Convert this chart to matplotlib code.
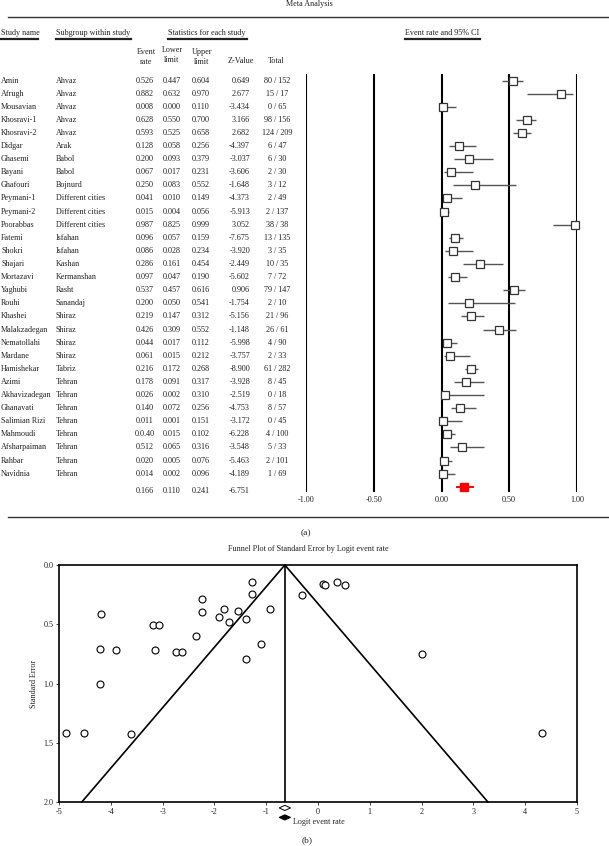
import matplotlib
matplotlib.use("Agg")
import matplotlib.pyplot as plt
import matplotlib.transforms as mtransforms
from matplotlib.lines import Line2D
from matplotlib.patches import Polygon

plt.rcParams['font.family'] = ['Liberation Serif', 'DejaVu Serif']
plt.rcParams['axes.unicode_minus'] = False

# ---- forest plot data (a) ----
studies = ["Amin", "Afrugh", "Mousavian", "Khosravi-1", "Khosravi-2", "Didgar", "Ghasemi",
           "Bayani", "Ghafouri", "Peymani-1", "Peymani-2", "Poorabbas", "Fatemi", "Shokri",
           "Shajari", "Mortazavi", "Yaghubi", "Rouhi", "Khashei", "Malakzadegan", "Nematollahi",
           "Mardane", "Hamishekar", "Azimi", "Akhavizadegan", "Ghanavati", "Salimian Rizi",
           "Mahmoudi", "Afsharpaiman", "Rahbar", "Navidnia"]
subgroups = ["Ahvaz", "Ahvaz", "Ahvaz", "Ahvaz", "Ahvaz", "Arak", "Babol", "Babol", "Bojnurd",
             "Different cities", "Different cities", "Different cities", "Isfahan", "Isfahan",
             "Kashan", "Kermanshan", "Rasht", "Sanandaj", "Shiraz", "Shiraz", "Shiraz", "Shiraz",
             "Tabriz", "Tehran", "Tehran", "Tehran", "Tehran", "Tehran", "Tehran", "Tehran", "Tehran"]
# table text as printed
rate_txt = ["0.526", "0.882", "0.008", "0.628", "0.593", "0.128", "0.200", "0.067", "0.250",
            "0.041", "0.015", "0.987", "0.096", "0.086", "0.286", "0.097", "0.537", "0.200",
            "0.219", "0.426", "0.044", "0.061", "0.216", "0.178", "0.026", "0.140", "0.011",
            "0.0.40", "0.512", "0.020", "0.014"]
lower_txt = ["0.447", "0.632", "0.000", "0.550", "0.525", "0.058", "0.093", "0.017", "0.083",
             "0.010", "0.004", "0.825", "0.057", "0.028", "0.161", "0.047", "0.457", "0.050",
             "0.147", "0.309", "0.017", "0.015", "0.172", "0.091", "0.002", "0.072", "0.001",
             "0.015", "0.065", "0.005", "0.002"]
upper_txt = ["0.604", "0.970", "0.110", "0.700", "0.658", "0.256", "0.379", "0.231", "0.552",
             "0.149", "0.056", "0.999", "0.159", "0.234", "0.454", "0.190", "0.616", "0.541",
             "0.312", "0.552", "0.112", "0.212", "0.268", "0.317", "0.310", "0.256", "0.151",
             "0.102", "0.316", "0.076", "0.096"]
zval_txt = ["0.649", "2.677", "-3.434", "3.166", "2.682", "-4.397", "-3.037", "-3.606", "-1.648",
            "-4.373", "-5.913", "3.052", "-7.675", "-3.920", "-2.449", "-5.602", "0.906", "-1.754",
            "-5.156", "-1.148", "-5.998", "-3.757", "-8.900", "-3.928", "-2.519", "-4.753", "-3.172",
            "-6.228", "-3.548", "-5.463", "-4.189"]
total_txt = ["80 / 152", "15 / 17", "0 / 65", "98 / 156", "124 / 209", "6 / 47", "6 / 30",
             "2 / 30", "3 / 12", "2 / 49", "2 / 137", "38 / 38", "13 / 135", "3 / 35", "10 / 35",
             "7 / 72", "79 / 147", "2 / 10", "21 / 96", "26 / 61", "4 / 90", "2 / 33", "61 / 282",
             "8 / 45", "0 / 18", "8 / 57", "0 / 45", "4 / 100", "5 / 33", "2 / 101", "1 / 69"]
summary_txt = ["0.166", "0.110", "0.241", "-6.751"]

# plotted values (as drawn in the figure)
rate = [0.526, 0.882, 0.008, 0.628, 0.593, 0.128, 0.200, 0.067, 0.250, 0.041, 0.015, 0.987,
        0.096, 0.086, 0.286, 0.097, 0.537, 0.200, 0.219, 0.426, 0.044, 0.061, 0.216, 0.178,
        0.026, 0.140, 0.011, 0.040, 0.152, 0.020, 0.014]
lower = [0.447, 0.632, 0.000, 0.550, 0.525, 0.058, 0.093, 0.017, 0.083, 0.010, 0.004, 0.825,
         0.057, 0.028, 0.161, 0.047, 0.457, 0.050, 0.147, 0.309, 0.017, 0.015, 0.172, 0.091,
         0.002, 0.072, 0.001, 0.015, 0.065, 0.005, 0.002]
upper = [0.604, 0.970, 0.110, 0.700, 0.658, 0.256, 0.379, 0.231, 0.552, 0.149, 0.056, 0.999,
         0.159, 0.234, 0.454, 0.190, 0.616, 0.541, 0.312, 0.552, 0.112, 0.212, 0.268, 0.317,
         0.310, 0.256, 0.151, 0.102, 0.316, 0.076, 0.096]
pooled = [0.166, 0.110, 0.241]
forest_ticks = [-1.0, -0.5, 0.0, 0.5, 1.0]
forest_ticklabels = ["-1.00", "-0.50", "0.00", "0.50", "1.00"]

# ---- funnel plot data (b) ----
logit = [-4.86, -4.51, -3.61, -4.18, -4.21, -3.90, -4.21, -3.19, -3.06, -3.15, -2.75, -2.63,
         -2.36, -2.23, -2.23, -1.92, -1.81, -1.72, -1.54, -1.39, -1.39, -1.27, -1.27, -1.10,
         -0.92, -0.30, 0.10, 0.14, 0.37, 0.52, 2.00, 4.33]
std_err = [1.418, 1.42, 1.43, 0.416, 0.71, 0.717, 1.004, 0.509, 0.509, 0.717, 0.731, 0.731,
           0.599, 0.29, 0.40, 0.436, 0.374, 0.484, 0.388, 0.456, 0.79, 0.143, 0.245, 0.667,
           0.371, 0.256, 0.163, 0.169, 0.141, 0.166, 0.751, 1.42]
center_logit = -0.64
funnel_xticks = [-5, -4, -3, -2, -1, 0, 1, 2, 3, 4, 5]
funnel_yticks = [0.0, 0.5, 1.0, 1.5, 2.0]

W, H = 609, 846
fig = plt.figure(figsize=(W / 100, H / 100), dpi=100)


def fx(px):
    return px / W


def fy(py):
    return 1 - py / H


def hline(x0, x1, py, lw=1.0, color="#333333"):
    fig.add_artist(Line2D([fx(x0), fx(x1)], [fy(py), fy(py)], lw=lw, color=color,
                          transform=fig.transFigure))


fs = 5.9
txtc = "#222222"

fig.text(fx(309), fy(4), "Meta Analysis", fontsize=fs, ha="center", va="center", color=txtc)
hline(8, 609, 17, lw=1.0)
hline(8, 609, 517, lw=1.0)
fig.text(fx(306), fy(533), "(a)", fontsize=6.8, ha="center", va="center", color=txtc)

# section headers with underlines
for label, x0, x1 in [("Study name", 1, 38), ("Subgroup within study", 56, 131),
                      ("Statistics for each study", 168, 247), ("Event rate and 95% CI", 405, 480)]:
    fig.text(fx(x0), fy(33), label, fontsize=fs, ha="left", va="center", color=txtc)
    hline(x0, x1, 39.5, lw=1.6, color="#222222")

fig.text(fx(146), fy(57), "Event\nrate", fontsize=fs, ha="center", va="center",
         color=txtc, linespacing=1.3)
fig.text(fx(172), fy(55), "Lower\nlimit", fontsize=fs, ha="center", va="center",
         color=txtc, linespacing=1.3)
fig.text(fx(202), fy(57), "Upper\nlimit", fontsize=fs, ha="center", va="center",
         color=txtc, linespacing=1.3)
fig.text(fx(241), fy(61), "Z-Value", fontsize=fs, ha="center", va="center", color=txtc)
fig.text(fx(276), fy(61), "Total", fontsize=fs, ha="center", va="center", color=txtc)

# forest axes
ax1 = fig.add_axes([fx(306), fy(492), (577 - 306) / W, (492 - 74) / H])
ax1.set_xlim(-1, 1)
ax1.set_ylim(31.4, -0.5)
for s in ax1.spines.values():
    s.set_visible(False)
ax1.set_yticks([])
ax1.set_xticks(forest_ticks)
ax1.set_xticklabels(forest_ticklabels, fontsize=fs, color=txtc)
ax1.tick_params(axis="x", length=0, pad=3)
for t in forest_ticks:
    ax1.axvline(t, color="black", lw=1.5, zorder=1)

rows = list(range(len(studies)))
ax1.hlines(rows, lower, upper, color="#555555", lw=1.0, zorder=2, clip_on=False)
ax1.plot(rate, rows, ls="none", marker="s", ms=5.2, mfc="white", mec="#333333",
         mew=0.9, zorder=3, clip_on=False)
sum_row = 31.0
ax1.hlines([sum_row], [pooled[1]], [pooled[2]], color="red", lw=1.4, zorder=2)
ax1.plot([pooled[0]], [sum_row], ls="none", marker="s", ms=5.5, mfc="red", mec="red", zorder=3)

# table text
tr = mtransforms.blended_transform_factory(fig.transFigure, ax1.transData)
for i in rows:
    ax1.text(fx(1), i, studies[i], transform=tr, fontsize=fs, ha="left", va="center", color=txtc)
    ax1.text(fx(56), i, subgroups[i], transform=tr, fontsize=fs, ha="left", va="center", color=txtc)
    ax1.text(fx(145), i, rate_txt[i], transform=tr, fontsize=fs, ha="center", va="center", color=txtc)
    ax1.text(fx(172), i, lower_txt[i], transform=tr, fontsize=fs, ha="center", va="center", color=txtc)
    ax1.text(fx(201), i, upper_txt[i], transform=tr, fontsize=fs, ha="center", va="center", color=txtc)
    ax1.text(fx(250), i, zval_txt[i], transform=tr, fontsize=fs, ha="right", va="center", color=txtc)
    ax1.text(fx(277), i, total_txt[i], transform=tr, fontsize=fs, ha="center", va="center", color=txtc)
for xp, s, ha in zip([145, 172, 201, 250], summary_txt, ["center", "center", "center", "right"]):
    ax1.text(fx(xp), 31.3, s, transform=tr, fontsize=fs, ha=ha, va="center", color=txtc)

# funnel plot
fig.text(fx(308), fy(549), "Funnel Plot of Standard Error by Logit event rate",
         fontsize=fs, ha="center", va="center", color=txtc)
ax2 = fig.add_axes([fx(59), fy(802), 518 / W, 237 / H])
ax2.set_xlim(-5, 5)
ax2.set_ylim(2.0, 0.0)
for s in ax2.spines.values():
    s.set_linewidth(1.2)
ax2.set_xticks(funnel_xticks)
ax2.set_yticks(funnel_yticks)
ax2.set_yticklabels(["0.0", "0.5", "1.0", "1.5", "2.0"])
ax2.tick_params(labelsize=fs, colors=txtc, length=2, width=0.6, pad=2)
ax2.set_ylabel("Standard Error", fontsize=fs, color=txtc, labelpad=4)

ax2.plot([center_logit - 1.96 * 2, center_logit, center_logit + 1.96 * 2], [2, 0, 2],
         color="black", lw=1.2, clip_on=False)
ax2.plot([center_logit, center_logit], [0, 2], color="black", lw=1.2)
ax2.plot(logit, std_err, ls="none", marker="o", ms=5, mfc="white", mec="black", mew=0.8)

# diamonds below the axis
dw, dh = 0.11, 0.022
for yc, fc in [(2.05, "white"), (2.13, "black")]:
    ax2.add_patch(Polygon([[center_logit - dw, yc], [center_logit, yc - dh],
                           [center_logit + dw, yc], [center_logit, yc + dh]],
                          closed=True, fc=fc, ec="black", lw=0.7, clip_on=False))
ax2.text(center_logit + 0.15, 2.17, "Logit event rate", fontsize=fs, ha="left",
         va="center", color=txtc)

fig.text(fx(307), fy(840), "(b)", fontsize=6.8, ha="center", va="center", color=txtc)

fig.savefig("out.png", dpi=100)
